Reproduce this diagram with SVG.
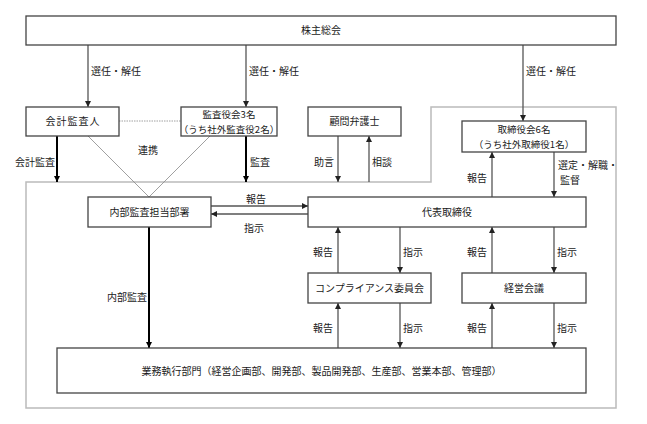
<svg xmlns="http://www.w3.org/2000/svg" width="647" height="424" viewBox="0 0 647 424">
<defs>
<marker id="ag" markerUnits="userSpaceOnUse" markerWidth="8" markerHeight="8" refX="6" refY="3" orient="auto"><path d="M0,0 L6,3 L0,6 Z" fill="#222"/></marker>
<marker id="ab" markerUnits="userSpaceOnUse" markerWidth="8" markerHeight="8" refX="6" refY="3" orient="auto"><path d="M0,0 L6,3 L0,6 Z" fill="#000"/></marker>
<style>
.box{fill:#fff;stroke:#444;stroke-width:1.3}
text{font-family:"Noto Sans CJK JP","Noto Sans",sans-serif;font-size:10px;fill:#1a1a1a}
.s{font-size:9.5px}
.c{text-anchor:middle}
.e{text-anchor:end}
.g{stroke:#555;stroke-width:1.3;fill:none;marker-end:url(#ag)}
.k{stroke:#000;stroke-width:2;fill:none;marker-end:url(#ab)}
.t{stroke:#888;stroke-width:0.8;fill:none}
</style>
</defs>
<path d="M26,182 H431 V107 H616 V408 H26 Z" fill="none" stroke="#bbb" stroke-width="1.5"/>
<g id="connectors">
<line class="g" x1="88" y1="45" x2="88" y2="107"/>
<line class="g" x1="246" y1="45" x2="246" y2="107"/>
<line class="g" x1="523" y1="45" x2="523" y2="121"/>
<line class="t" x1="119" y1="121" x2="181" y2="121" stroke-dasharray="1.5,1"/>
<line class="t" x1="88" y1="136" x2="149" y2="197"/>
<line class="t" x1="210" y1="136" x2="149" y2="197"/>
<line class="k" x1="57" y1="136" x2="57" y2="182"/>
<line class="k" x1="246" y1="136" x2="246" y2="182"/>
<line class="k" x1="149" y1="227" x2="149" y2="348"/>
<line class="g" x1="338" y1="136" x2="338" y2="182"/>
<line class="g" x1="369" y1="182" x2="369" y2="136"/>
<line class="g" x1="211" y1="206" x2="308" y2="206"/>
<line class="g" x1="308" y1="214" x2="211" y2="214"/>
<line class="g" x1="492" y1="197" x2="492" y2="152"/>
<line class="g" x1="554" y1="152" x2="554" y2="197"/>
<line class="g" x1="338" y1="273" x2="338" y2="227"/>
<line class="g" x1="400" y1="227" x2="400" y2="273"/>
<line class="g" x1="492" y1="273" x2="492" y2="227"/>
<line class="g" x1="554" y1="227" x2="554" y2="273"/>
<line class="g" x1="338" y1="348" x2="338" y2="303"/>
<line class="g" x1="400" y1="303" x2="400" y2="348"/>
<line class="g" x1="492" y1="348" x2="492" y2="303"/>
<line class="g" x1="554" y1="303" x2="554" y2="348"/>
<text x="91" y="75">選任・解任</text>
<text x="249" y="75">選任・解任</text>
<text x="526" y="75">選任・解任</text>
<text class="c" x="148" y="154">連携</text>
<text class="e" x="55" y="166">会計監査</text>
<text x="250" y="166">監査</text>
<text class="e" x="334" y="166">助言</text>
<text x="372" y="166">相談</text>
<text class="c" x="256" y="203">報告</text>
<text class="c" x="254" y="232">指示</text>
<text class="e" x="487" y="182">報告</text>
<text x="558" y="169">選定・解職・</text>
<text class="c" x="570" y="184">監督</text>
<text class="e" x="147" y="301">内部監査</text>
<text class="e" x="333" y="256">報告</text>
<text x="403" y="256">指示</text>
<text class="e" x="487" y="256">報告</text>
<text x="557" y="256">指示</text>
<text class="e" x="333" y="332">報告</text>
<text x="403" y="332">指示</text>
<text class="e" x="487" y="332">報告</text>
<text x="557" y="332">指示</text>
</g>
<g id="agm"><rect class="box" x="26" y="16" width="590" height="29"/><text class="c" x="321" y="34">株主総会</text></g>
<g id="auditor"><rect class="box" x="26" y="107" width="93" height="29"/><text class="c" x="73" y="125" letter-spacing="1">会計監査人</text></g>
<g id="kansayaku"><rect class="box" x="181" y="107" width="96" height="29"/><text class="c s" x="229" y="118">監査役会3名</text><text class="c s" x="229" y="132.5">（うち社外監査役2名）</text></g>
<g id="lawyer"><rect class="box" x="308" y="107" width="93" height="29"/><text class="c" x="354.5" y="125">顧問弁護士</text></g>
<g id="board"><rect class="box" x="462" y="121" width="124" height="31"/><text class="c s" x="524" y="133">取締役会6名</text><text class="c s" x="524" y="148">（うち社外取締役1名）</text></g>
<g id="internal"><rect class="box" x="88" y="197" width="123" height="30"/><text class="c" x="149.5" y="215.5">内部監査担当部署</text></g>
<g id="ceo"><rect class="box" x="308" y="197" width="278" height="30"/><text class="c" x="447" y="215.5">代表取締役</text></g>
<g id="compliance"><rect class="box" x="308" y="273" width="123" height="30"/><text class="c" x="369.5" y="291.5">コンプライアンス委員会</text></g>
<g id="mgmt"><rect class="box" x="462" y="273" width="124" height="30"/><text class="c" x="524" y="291.5">経営会議</text></g>
<g id="business"><rect class="box" x="57" y="348" width="529" height="45"/><text class="c" x="321.5" y="374.5">業務執行部門（経営企画部、開発部、製品開発部、生産部、営業本部、管理部）</text></g>
</svg>
